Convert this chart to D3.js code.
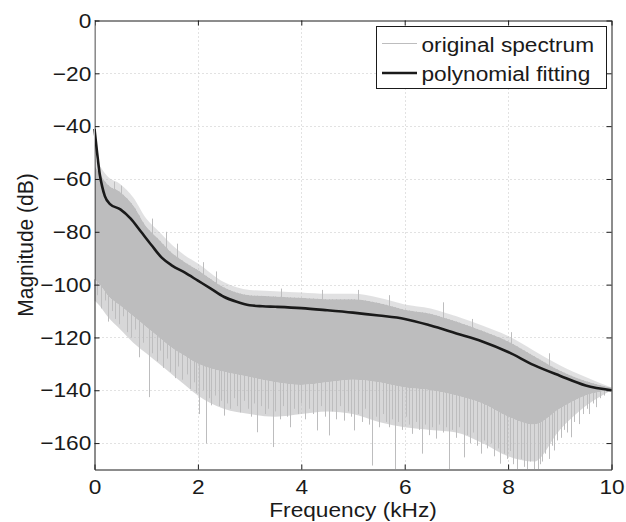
<!doctype html>
<html>
<head>
<meta charset="UTF-8">
<title>Spectrum and polynomial fitting</title>
<script src="https://d3js.org/d3.v7.min.js"></script>
<style>
  body { margin: 0; background: #fff; }
  text { font-family: "Liberation Sans", Arial, Helvetica, sans-serif; fill: #1a1a1a; }
</style>
</head>
<body>
<script>
// gray spectrum (kHz / dB)
var envFreq  = [0, 0.1, 0.25, 0.5, 0.75, 1, 1.25, 1.5, 1.75, 2, 2.5, 3, 3.5, 4, 4.5, 5, 5.5, 6, 6.5, 7, 7.5, 8, 8.5, 9, 9.5, 10];
var envPeak  = [-52, -55, -59, -62, -67, -75, -80, -85, -89, -92, -99, -102, -102.5, -103, -103.5, -103.5, -105, -107.5, -109, -112, -115.5, -119.5, -125, -130.5, -135, -139];
var envTop   = [-55, -58, -62, -65, -70, -78, -83, -88, -91.5, -94.5, -101, -104, -104.5, -105, -105.5, -105.5, -107, -109.5, -111, -114, -117.5, -121.5, -127, -132.5, -136.5, -139];
var envSolid = [-98, -100, -104, -108, -112, -116, -120, -124, -127, -130, -133, -135, -137, -138, -137, -136, -137, -139, -140, -142, -145, -150, -153, -147, -142, -140];
var envComb  = [-106, -108, -112, -117, -122, -126, -130, -134, -138, -142, -147, -149, -150, -149, -148, -149, -152, -154, -155, -156, -160, -165, -167, -155, -146, -140];

// lower tips of the comb (kHz, dB)
var spikes = [
  [0.05,-104],[0.12,-109],[0.2,-106],[0.26,-114],[0.33,-110],[0.4,-113],[0.48,-115],[0.55,-112],
  [0.62,-118],[0.7,-120],[0.78,-117],[0.87,-127.5],[0.93,-122],[1.05,-142.6],[1.12,-126],[1.2,-129],
  [1.26,-125],[1.32,-131.5],[1.4,-128],[1.47,-133],[1.55,-135.4],[1.62,-131],[1.7,-136],[1.78,-134],
  [1.84,-139.5],[1.92,-137],[1.97,-141],[2.03,-149],[2.09,-140],[2.15,-160.2],[2.21,-143],[2.26,-145.7],
  [2.33,-142],[2.4,-146],[2.45,-144],[2.5,-149.6],[2.57,-145],[2.63,-147],[2.7,-143],[2.76,-146],
  [2.82,-148.4],[2.9,-144],[2.97,-147],[3.03,-150],[3.09,-145],[3.15,-155.9],[3.22,-146],[3.29,-149],
  [3.35,-147],[3.45,-161.5],[3.5,-148],[3.58,-151],[3.65,-146],[3.72,-150],[3.79,-154],[3.86,-147],
  [3.93,-149],[4.0,-145],[4.08,-151],[4.15,-147],[4.22,-149],[4.31,-155.2],[4.38,-146],[4.45,-150],
  [4.53,-157.1],[4.6,-148],[4.67,-151],[4.74,-146],[4.82,-151.5],[4.9,-148],[4.96,-150],[5.02,-155.2],
  [5.1,-149],[5.17,-152],[5.24,-147],[5.3,-153],[5.37,-168.5],[5.44,-150],[5.51,-154],[5.58,-149],
  [5.63,-152],[5.69,-154],[5.75,-151],[5.81,-170],[5.88,-152],[5.95,-155],[6.02,-150],[6.08,-153],
  [6.14,-156.5],[6.21,-152],[6.27,-155],[6.34,-164],[6.4,-153],[6.47,-157],[6.53,-154],[6.6,-158.3],
  [6.67,-153],[6.74,-156],[6.8,-154],[6.85,-170],[6.92,-155],[6.99,-158],[7.05,-154],[7.14,-165.4],
  [7.2,-157],[7.27,-160],[7.33,-156],[7.4,-161],[7.47,-164],[7.53,-159],[7.6,-162],[7.67,-160],
  [7.73,-165],[7.8,-162],[7.85,-167.8],[7.92,-164],[7.98,-166],[8.04,-163],[8.1,-168],[8.18,-170],
  [8.24,-166],[8.3,-169],[8.37,-170],[8.43,-167],[8.5,-170],[8.57,-170],[8.62,-168],[8.66,-167],
  [8.72,-164],[8.79,-166],[8.84,-161],[8.89,-162.8],[8.95,-159],[9.02,-158],[9.08,-155],[9.14,-156],
  [9.21,-157.8],[9.28,-152],[9.37,-152.8],[9.45,-149],[9.52,-147],[9.57,-149],[9.64,-145],[9.7,-146.4],
  [9.78,-143],[9.86,-142]
];
// a few tall hairs on the upper edge (kHz, dB)
var peaks = [[0.38,-61],[0.52,-62.5],[1.12,-75],[1.38,-80],[1.6,-84.5],[2.1,-91.5],[2.35,-95],[3.6,-101.5],
             [4.4,-102],[5.1,-102],[5.7,-104],[6.74,-106.7],[7.3,-113],[8.05,-118],[8.8,-126]];
var dcLevel = 0;   // the spectrum value at 0 Hz runs up the left axis

// black polynomial fit
var fitFreq = [0, 0.05, 0.1, 0.15, 0.2, 0.3, 0.5, 0.7, 0.9, 1.1, 1.3, 1.5, 1.75, 2, 2.25, 2.5, 2.75, 3, 3.25, 3.5, 4, 4.5, 5, 5.5, 6, 6.5, 7, 7.5, 8, 8.5, 9, 9.5, 10];
var fitDb   = [-41, -50, -58, -63, -66.5, -69.5, -71.5, -75, -80, -85, -89.8, -92.8, -95.5, -98.5, -101.5, -104.6, -106.5, -107.8, -108.2, -108.4, -108.9, -109.7, -110.6, -111.7, -113, -115.5, -118.5, -121.5, -125.5, -130.5, -134.5, -138.2, -140];

var xTicks = [0, 2, 4, 6, 8, 10];
var yTicks = [-160, -140, -120, -100, -80, -60, -40, -20, 0];
var legendLabels = ["original spectrum", "polynomial fitting"];

var w = 626, h = 522;
var pLeft = 94.5, pRight = 611.5, pTop = 20.5, pBottom = 469.5;
var ink = "#1a1a1a", specGray = "#bdbdbe";
var stretch = "scale(1.08,1)";   // the figure's text is a bit wide

var x = d3.scaleLinear().domain([0, 10]).range([pLeft, pRight]);
var y = d3.scaleLinear().domain([-170, 0]).range([pBottom, pTop]);

var svg = d3.select("body").append("svg").attr("width", w).attr("height", h);

svg.append("defs").append("clipPath").attr("id", "plot")
   .append("rect").attr("x", pLeft).attr("y", pTop - 0.5)
   .attr("width", pRight - pLeft + 0.5).attr("height", pBottom - pTop);

// grid
var grid = svg.append("g").attr("stroke", "#c4c4c4").attr("stroke-dasharray", "1,3").attr("stroke-width", 1);
grid.selectAll(".gx").data(xTicks.slice(1, -1)).enter().append("line")
    .attr("x1", function(d){ return Math.round(x(d)) + 0.5; })
    .attr("x2", function(d){ return Math.round(x(d)) + 0.5; })
    .attr("y1", pTop).attr("y2", pBottom);
grid.selectAll(".gy").data(yTicks.slice(0, -1)).enter().append("line")
    .attr("y1", function(d){ return Math.round(y(d)) + 0.5; })
    .attr("y2", function(d){ return Math.round(y(d)) + 0.5; })
    .attr("x1", pLeft).attr("x2", pRight);

// spectrum
var envRows = envFreq.map(function(f, i){
    return { f: f, peak: envPeak[i], top: envTop[i], solid: envSolid[i], comb: envComb[i] };
});
var data = svg.append("g").attr("clip-path", "url(#plot)");

function band(lo, hi) {
    return d3.area().curve(d3.curveMonotoneX)
        .x(function(d){ return x(d.f); })
        .y0(function(d){ return y(d[lo]); })
        .y1(function(d){ return y(d[hi]); });
}
data.append("clipPath").attr("id", "under").append("path")
    .attr("d", d3.area().curve(d3.curveMonotoneX)
        .x(function(d){ return x(d.f); })
        .y0(y(-170)).y1(function(d){ return y(d.top); })(envRows));

data.append("path").datum(envRows).attr("fill", specGray).attr("fill-opacity", 0.6)
    .attr("d", band("comb", "solid"));
data.append("path").datum(envRows).attr("fill", specGray).attr("fill-opacity", 0.45)
    .attr("d", band("top", "peak"));
data.append("path").datum(envRows).attr("fill", specGray)
    .attr("d", band("solid", "top"));

data.append("g").attr("clip-path", "url(#under)")
    .selectAll("line").data(spikes).enter().append("line")
    .attr("x1", function(d){ return Math.round(x(d[0])) + 0.5; })
    .attr("x2", function(d){ return Math.round(x(d[0])) + 0.5; })
    .attr("y1", function(d){ return y(d[1]); })
    .attr("y2", y(-60))
    .attr("stroke", specGray).attr("stroke-width", 1);

data.append("g").selectAll("line").data(peaks).enter().append("line")
    .attr("x1", function(d){ return Math.round(x(d[0])) + 0.5; })
    .attr("x2", function(d){ return Math.round(x(d[0])) + 0.5; })
    .attr("y1", function(d){ return y(d[1]); })
    .attr("y2", function(d){ return y(d[1] - 8); })
    .attr("stroke", specGray).attr("stroke-width", 1);

// fit curve
var fitRows = fitFreq.map(function(f, i){ return [f, fitDb[i]]; });
svg.append("path").datum(fitRows)
   .attr("fill", "none").attr("stroke", ink).attr("stroke-width", 2.6)
   .attr("stroke-linejoin", "round")
   .attr("d", d3.line().curve(d3.curveMonotoneX)
       .x(function(d){ return x(d[0]); }).y(function(d){ return y(d[1]); }));

// axes (box with inward ticks)
function styleAxis(g) {
    g.select(".domain").attr("stroke", ink);
    g.selectAll(".tick line").attr("stroke", ink);
    g.selectAll("text").attr("font-size", 21).attr("fill", ink)
     .attr("font-family", '"Liberation Sans", Arial, sans-serif');
}
svg.append("g").attr("transform", "translate(0," + pBottom + ")")
   .call(d3.axisBottom(x).tickValues(xTicks).tickSizeInner(-5).tickSizeOuter(0).tickPadding(10))
   .call(styleAxis);
svg.append("g").attr("transform", "translate(0," + pTop + ")")
   .call(d3.axisTop(x).tickValues(xTicks).tickSizeInner(-5).tickSizeOuter(0).tickFormat(""))
   .call(styleAxis);
svg.append("g").attr("transform", "translate(" + pLeft + ",0)")
   .call(d3.axisLeft(y).tickValues(yTicks).tickSizeInner(-5).tickSizeOuter(0).tickPadding(3))
   .call(styleAxis);
svg.append("g").attr("transform", "translate(" + pRight + ",0)")
   .call(d3.axisRight(y).tickValues(yTicks).tickSizeInner(-5).tickSizeOuter(0).tickFormat(""))
   .call(styleAxis);
svg.selectAll(".tick text").attr("transform", stretch);

// 0 Hz value over the left axis
svg.append("line")
   .attr("x1", x(0)).attr("x2", x(0))
   .attr("y1", y(dcLevel)).attr("y2", y(-98))
   .attr("stroke", specGray).attr("stroke-width", 1);

// axis titles
svg.append("text")
   .attr("transform", "translate(" + ((pLeft + pRight) / 2) + ",517) " + stretch)
   .attr("text-anchor", "middle").attr("font-size", 21)
   .text("Frequency (kHz)");
svg.append("text")
   .attr("transform", "translate(33," + ((pTop + pBottom) / 2) + ") rotate(-90) scale(1,1.08)")
   .attr("text-anchor", "middle").attr("font-size", 21)
   .text("Magnitude (dB)");

// legend
var lg = svg.append("g");
lg.append("rect").attr("x", 376.5).attr("y", 26.5).attr("width", 230).attr("height", 62)
  .attr("fill", "#fff").attr("stroke", ink).attr("stroke-width", 1);
var legendStyle = [{ c: specGray, sw: 1 }, { c: ink, sw: 2.6 }];
var rows = lg.selectAll(".row").data(legendLabels).enter().append("g")
  .attr("transform", function(d, i){ return "translate(0," + (i === 0 ? 43.5 : 73) + ")"; });
rows.append("line").attr("x1", 382).attr("x2", 417).attr("y1", 0).attr("y2", 0)
  .attr("stroke", function(d, i){ return legendStyle[i].c; })
  .attr("stroke-width", function(d, i){ return legendStyle[i].sw; });
rows.append("text").attr("transform", "translate(421.5,8) " + stretch)
  .attr("font-size", 21).text(function(d){ return d; });
</script>
</body>
</html>
